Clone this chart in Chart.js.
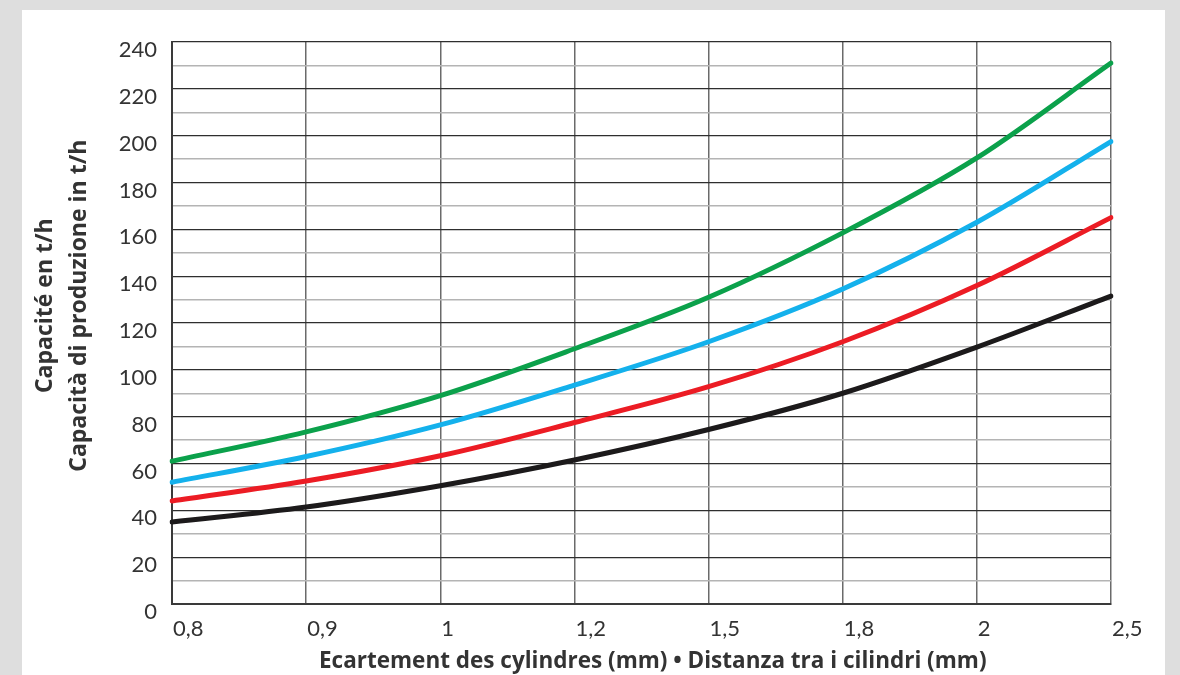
<!DOCTYPE html>
<html>
<head>
<meta charset="utf-8">
<script src="https://cdn.jsdelivr.net/npm/chart.js@4.4.1/dist/chart.umd.min.js"></script>
<style>
  html, body { margin: 0; padding: 0; background: #dedede; }
  #wrap { width: 1180px; height: 675px; position: relative; }
  canvas { display: block; }
</style>
</head>
<body>
<div id="wrap"><canvas id="c" width="1180" height="675"></canvas></div>
<script>
const categories = ['0,8', '0,9', '1', '1,2', '1,5', '1,8', '2', '2,5'];
const greenValues = [61, 73.5, 89, 109, 131, 158.5, 190.5, 231];
const blueValues  = [52, 63, 76.5, 93.5, 112, 134.5, 163, 197.5];
const redValues   = [44, 52.5, 63.3, 77.5, 92.8, 112, 136, 165];
const blackValues = [35, 41.4, 50.5, 61.5, 74.5, 90, 109.7, 131.5];
const yLabelValues = [0, 20, 40, 60, 80, 100, 120, 140, 160, 180, 200, 220, 240];
const yTitle = ['Capacité en t/h', 'Capacità di produzione in t/h'];
const xTitle = 'Ecartement des cylindres (mm) • Distanza tra i cilindri (mm)';

const panelPlugin = {
  id: 'panel',
  beforeDraw(chart) {
    const ctx = chart.ctx;
    ctx.save();
    ctx.fillStyle = '#dedede';
    ctx.fillRect(0, 0, chart.width, chart.height);
    ctx.fillStyle = '#ffffff';
    ctx.fillRect(22, 10, 1143, 665);
    ctx.restore();
  }
};

function ds(label, data, color) {
  return {
    label, data,
    borderColor: color,
    backgroundColor: color,
    borderWidth: 5,
    pointRadius: 0,
    cubicInterpolationMode: 'monotone',
    fill: false,
    borderCapStyle: 'round'
  };
}

// small leading pad so the centred titles sit where the original places them
const pad = (s, n) => '\u2002'.repeat(n) + s;

new Chart(document.getElementById('c'), {
  type: 'line',
  data: {
    labels: categories,
    datasets: [
      ds('green', greenValues, '#0ba14b'),
      ds('blue', blueValues, '#14b1ec'),
      ds('red', redValues, '#ec1c24'),
      ds('black', blackValues, '#1c1a1b')
    ]
  },
  options: {
    responsive: false,
    animation: false,
    plugins: { legend: { display: false }, tooltip: { enabled: false } },
    layout: { padding: { left: 0, top: 42, right: 69, bottom: 0 } },
    scales: {
      x: {
        type: 'category',
        offset: false,
        afterFit(scale) { scale.height = 71; },
        grid: {
          color: '#6a6a6a',
          lineWidth: 1.5,
          drawTicks: false,
          tickLength: 0
        },
        border: { display: true, color: '#3a3a3a', width: 2 },
        ticks: {
          align: 'start',
          labelOffset: 1,
          padding: 12,
          color: '#333333',
          maxRotation: 0,
          autoSkip: false,
          font: { family: 'Lato', size: 22 }
        },
        title: {
          display: true,
          text: pad(xTitle, 2),
          color: '#333333',
          padding: { top: 0, bottom: 0 },
          font: { family: 'Open Sans', size: 22.5, weight: 'bold', lineHeight: 1.2 }
        }
      },
      y: {
        min: 0,
        max: 240,
        afterFit(scale) { scale.width = 172; },
        afterBuildTicks(scale) {
          const t = [];
          for (let v = 0; v <= 240; v += 10) t.push({ value: v });
          scale.ticks = t;
        },
        grid: {
          color: (c) => (c.tick && c.tick.value % 20 === 0) ? '#2e2e2e' : '#b4b4b4',
          lineWidth: (c) => (c.tick && c.tick.value % 20 === 0) ? 1.2 : 1.5,
          drawTicks: false,
          tickLength: 0
        },
        border: { display: true, color: '#3a3a3a', width: 2 },
        ticks: {
          callback: (v) => yLabelValues.includes(v) ? String(v) : '',
          padding: 15,
          labelOffset: 8,
          color: '#333333',
          autoSkip: false,
          font: { family: 'Lato', size: 22 }
        },
        title: {
          display: true,
          text: yTitle.map(s => pad(s, 3)),
          color: '#333333',
          padding: { top: 28, bottom: 0 },
          font: { family: 'Open Sans', size: 23, weight: 'bold', lineHeight: 1.48 }
        }
      }
    }
  },
  plugins: [panelPlugin]
});
</script>
</body>
</html>
